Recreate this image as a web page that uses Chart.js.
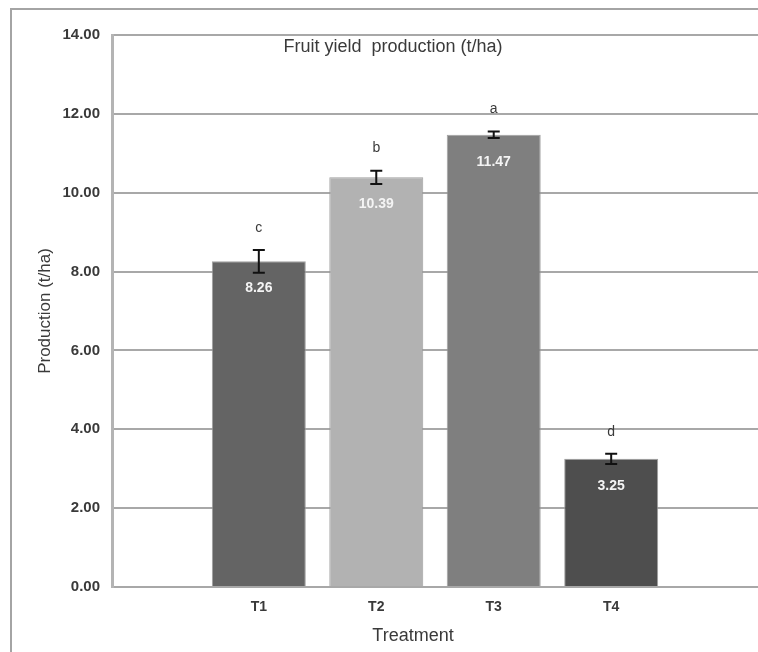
<!DOCTYPE html>
<html>
<head>
<meta charset="utf-8">
<script src="https://cdn.jsdelivr.net/npm/chart.js@4/dist/chart.umd.min.js"></script>
<style>
  html, body { margin: 0; padding: 0; background: #fff; overflow: hidden; width: 758px; height: 652px; }
  #frame { position: absolute; left: 10px; top: 8px; width: 900px; height: 900px;
           border-left: 2px solid #a4a4a4; border-top: 2px solid #a4a4a4; }
  #wrap { position: absolute; left: 0; top: 0; width: 758px; height: 652px; }
</style>
</head>
<body>
<div id="frame"></div>
<div id="wrap"><canvas id="c" width="758" height="652"></canvas></div>
<script>
// Fruit yield per treatment (t/ha), with standard error and significance groups
const treatments = ['T1', 'T2', 'T3', 'T4'];
const yieldMeans = [8.26, 10.39, 11.47, 3.25];
const yieldErrors = [0.29, 0.17, 0.08, 0.13];
const groupLetters = ['c', 'b', 'a', 'd'];
const yTickValues = [0, 2, 4, 6, 8, 10, 12, 14];

const chartTitle = 'Fruit yield  production (t/ha)';
const xTitle = 'Treatment';
const yTitle = 'Production (t/ha)';

const barColors = ['#646464', '#b2b2b2', '#7f7f7f', '#4e4e4e'];
const FONT = '"Liberation Sans", Arial, sans-serif';
const TEXT = '#3a3a3a';

// Error bars, value labels, group letters and in-plot captions
const annotate = {
  id: 'annotate',
  afterDatasetsDraw(chart) {
    const { ctx, scales: { x, y }, chartArea } = chart;
    ctx.save();
    ctx.textAlign = 'center';
    ctx.textBaseline = 'middle';
    yieldMeans.forEach((v, i) => {
      const px = x.getPixelForValue(i);
      const top = y.getPixelForValue(v + yieldErrors[i]);
      const bot = y.getPixelForValue(v - yieldErrors[i]);
      ctx.strokeStyle = '#111';
      ctx.lineWidth = 2;
      ctx.beginPath();
      ctx.moveTo(px, top); ctx.lineTo(px, bot);
      ctx.moveTo(px - 6, top); ctx.lineTo(px + 6, top);
      ctx.moveTo(px - 6, bot); ctx.lineTo(px + 6, bot);
      ctx.stroke();

      ctx.fillStyle = '#f4f4f4';
      ctx.font = 'bold 14px ' + FONT;
      ctx.fillText(v.toFixed(2), px, y.getPixelForValue(v) + 27);

      ctx.fillStyle = TEXT;
      ctx.font = '14px ' + FONT;
      ctx.fillText(groupLetters[i], px, top - 22);
    });

    const w = chartArea.right - chartArea.left;
    ctx.fillStyle = TEXT;
    ctx.font = '18px ' + FONT;
    ctx.fillText(chartTitle, chartArea.left + w * 0.435, chartArea.top + 12);
    ctx.fillText(xTitle, chartArea.left + w * 0.466, chart.height - 16);
    ctx.restore();
  }
};

new Chart(document.getElementById('c'), {
  type: 'bar',
  data: {
    datasets: [{
      data: yieldMeans.map((v, i) => ({ x: i, y: v })),
      backgroundColor: barColors,
      borderColor: 'rgba(150,150,150,0.9)',
      borderWidth: 1,
      barPercentage: 0.8,
      categoryPercentage: 1.0
    }]
  },
  options: {
    responsive: false,
    animation: false,
    layout: { padding: { left: 0, right: 0, top: 35, bottom: 0 } },
    plugins: { legend: { display: false }, tooltip: { enabled: false } },
    scales: {
      x: {
        type: 'linear',
        offset: false,
        min: -1.25,
        max: 4.25,
        afterBuildTicks: (s) => { s.ticks = treatments.map((_, i) => ({ value: i })); },
        afterFit: (s) => { s.height = 65; },
        ticks: {
          callback: (v) => treatments[v] ?? '',
          color: TEXT,
          font: { family: FONT, size: 14, weight: 'bold' },
          padding: 12,
          maxRotation: 0,
          autoSkip: false
        },
        grid: { display: false, drawTicks: false },
        border: { display: false }
      },
      y: {
        min: 0,
        max: 14,
        afterBuildTicks: (s) => { s.ticks = yTickValues.map(v => ({ value: v })); },
        afterFit: (s) => { s.width = 112; },
        ticks: {
          callback: (v) => Number(v).toFixed(2),
          color: TEXT,
          font: { family: FONT, size: 15, weight: 'bold' },
          padding: 12
        },
        grid: { color: '#a8a8a8', lineWidth: 2, drawTicks: false },
        border: { display: true, color: '#b4b4b4', width: 3 },
        title: {
          display: true,
          text: yTitle,
          color: TEXT,
          font: { family: FONT, size: 17 },
          padding: { top: 35, bottom: 0 }
        }
      }
    }
  },
  plugins: [annotate]
});
</script>
</body>
</html>
